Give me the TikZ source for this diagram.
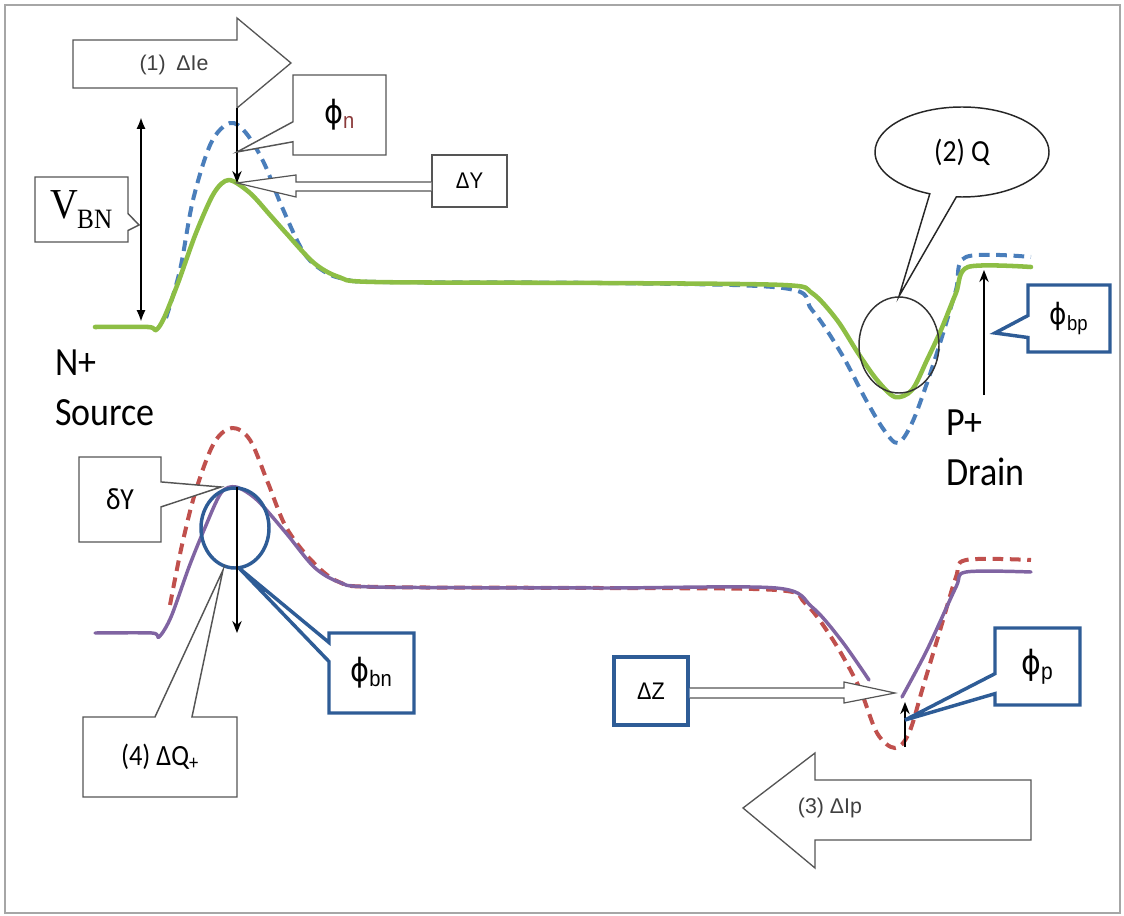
\documentclass[tikz,border=0pt]{standalone}
\usepackage{fontspec}
\setmainfont{Liberation Sans}[FakeStretch=0.9]
\newfontfamily\plainfont{Liberation Sans}
\newfontfamily\calfont{Carlito}[FakeStretch=0.9]
\newfontfamily\serfont{Liberation Serif}[FakeStretch=0.9]
\newfontfamily\dvfont{DejaVu Sans}[FakeStretch=0.9]
\usetikzlibrary{shapes.callouts,shapes.geometric,arrows.meta}
\newdimen\px \px=0.75pt
\definecolor{cgreen}{HTML}{8DBE45}
\definecolor{cblue}{HTML}{4A7EBB}
\definecolor{cred}{HTML}{C0504D}
\definecolor{cpurple}{HTML}{8064A2}
\definecolor{cbox}{HTML}{2E5C96}
\definecolor{cline}{HTML}{555555}
\definecolor{cn}{HTML}{8B3A3A}
\newcommand\ph[1]{{\dvfont ϕ}\textsubscript{#1}}
\begin{document}
\begin{tikzpicture}[x=0.75pt,y=-0.75pt,
  box/.style={draw=cline, line width=1.1pt, fill=white, inner sep=0pt, text=black},
  bluebox/.style={draw=cbox, line width=2.6pt, fill=white, inner sep=0pt, text=black},
  curve/.style={line width=3.4pt, line join=round, line cap=round},
  dcurve/.style={line width=3pt, dash pattern=on 8pt off 5pt},
  blockarrow/.style={draw=cline, line width=1pt, fill=white},
  thinarrow/.style={draw=cline, line width=0.9pt, fill=white},
  darrow/.style={draw=black, line width=1.2pt, -{Stealth[length=9pt,width=7pt]}},
  atext/.style={text=black!75, font=\plainfont\fontsize{16pt}{19pt}\selectfont}
]
\useasboundingbox (0,0) rectangle (1124,916);
\draw[draw=gray!70, line width=1.5pt] (5,5) rectangle (1120,913);

% upper curves
\draw[dcurve, cblue] plot[smooth, tension=0.55] coordinates {(166,318) (180,270) (193,200) (211,143) (230,123) (246,133) (264,163) (282,207) (304,253) (325,272) (345,279) (380,282) (600,283) (783,288) (812,310) (841,353) (866,400) (884,430) (898,443) (912,423) (927,383) (941,340) (956,290) (966,257) (1031,257)};
\draw[curve, cgreen] plot[smooth, tension=0.5] coordinates {(95,327) (148,327) (156,330) (164,318) (178,283) (196,233) (214,193) (229,180) (250,193) (270,215) (286,233) (314,263) (339,277) (375,282) (600,283) (783,285) (812,293) (837,320) (858,353) (877,380) (895,397) (912,390) (927,360) (941,330) (956,293) (968,267) (1031,267)};

% lower curves
\draw[dcurve, cred] plot[smooth, tension=0.55] coordinates {(170,605) (182,545) (196,490) (214,443) (232,428) (250,440) (268,483) (286,527) (311,560) (339,582) (380,587) (600,588) (776,590) (805,603) (833,640) (859,687) (877,733) (895,748) (909,733) (923,687) (941,627) (956,577) (966,560) (1031,560)};
\draw[curve, cpurple, line width=2.6pt] plot[smooth, tension=0.5] coordinates {(95,633) (152,633) (159,637) (171,617) (189,567) (204,530) (221,493) (236,487) (257,500) (286,533) (314,567) (339,582) (375,587) (600,588) (776,588) (812,607) (841,640) (869,680)};
\draw[curve, cpurple, line width=2.6pt] plot[smooth, tension=0.5] coordinates {(902,697) (927,650) (956,587) (966,572) (1031,572)};

% circles
\node[draw=black!80, line width=1.1pt, ellipse, minimum width=80\px, minimum height=96\px, inner sep=0pt] (qc) at (899,345) {};
\node[draw=cbox, line width=2.6pt, ellipse, minimum width=68\px, minimum height=80\px, inner sep=0pt] (bc) at (235,528) {};

% block arrows
\draw[blockarrow] (73,40) -- (237,40) -- (237,18) -- (291,63) -- (237,108) -- (237,88) -- (73,88) -- cycle;
\node[atext] (a1) at (174,65) {(1)\hspace{8pt}ΔIe};
\draw[blockarrow] (743,808) -- (815,753) -- (815,780) -- (1031,780) -- (1031,840) -- (815,840) -- (815,868) -- cycle;
\node[atext] (a3) at (830,808) {(3) ΔIp};

% coordinates for arrows
\coordinate (pn0) at (237,108);
\coordinate (pn1) at (237,183);
\coordinate (vb0) at (141,117);
\coordinate (vb1) at (141,322);
\coordinate (pp0) at (984,395);
\coordinate (pp1) at (984,270);
\coordinate (bn0) at (237,487);
\coordinate (bn1) at (237,633);
\coordinate (sp0) at (905,747);
\coordinate (sp1) at (905,702);

% vertical arrows
\draw[darrow] (pn0) -- (pn1);
\draw[line width=2.2pt, {Latex[length=9pt,width=7pt]}-{Latex[length=9pt,width=7pt]}] (vb0) -- (vb1);
\draw[darrow, line width=1.3pt] (pp0) -- (pp1);
\draw[darrow] (bn0) -- (bn1);
\draw[darrow, line width=2pt] (sp0) -- (sp1);

% hollow thin arrows
\node[box] (dy) at (469.5,181) [minimum width=75\px, minimum height=52\px] {\fontsize{17pt}{20pt}\selectfont ΔY};
\draw[thinarrow] (dy.west |- 0,182) -- (296,182) -- (296,175) -- (pn1) -- (296,197) -- (296,191) -- (dy.west |- 0,191);
\node[bluebox] (dz) at (651,691) [minimum width=74\px, minimum height=68\px] {\fontsize{18pt}{21pt}\selectfont ΔZ};
\draw[thinarrow] (dz.east |- 0,688) -- (844,688) -- (844,682) -- (895,693) -- (844,703) -- (844,698) -- (dz.east |- 0,698);

% callouts
\node[box, rectangle callout, callout absolute pointer={(237,152)}, callout pointer width=20\px,
  minimum width=93\px, minimum height=80\px] (phn) at (339.5,115)
  {\fontsize{24pt}{28pt}\selectfont{\dvfont ϕ}\textcolor{cn}{\textsubscript{n}}};
\node[box, rectangle callout, callout absolute pointer={(139,225)}, callout pointer width=17\px,
  minimum width=93\px, minimum height=65\px] (vbn) at (81.5,209.5)
  {\serfont\fontsize{32pt}{36pt}\selectfont V\kern-1pt\raisebox{-0.22em}{\fontsize{21pt}{24pt}\selectfont BN}};
\node[bluebox, rectangle callout, callout absolute pointer={(995,333)}, callout pointer width=22\px,
  minimum width=82\px, minimum height=67\px] (phbp) at (1069,318.5)
  {\fontsize{22pt}{26pt}\selectfont\ph{bp}};
\node[box, rectangle callout, callout absolute pointer={(221,487)}, callout pointer width=25\px,
  minimum width=82\px, minimum height=85\px] (dly) at (120,499.5)
  {\calfont\fontsize{23pt}{27pt}\selectfont δY};
\node[box, rectangle callout, callout absolute pointer={(223,570)}, callout pointer width=37\px,
  minimum width=154\px, minimum height=80\px] (dq) at (160,757)
  {\calfont\fontsize{22pt}{26pt}\selectfont (4) ΔQ\textsubscript{+}};
\node[bluebox, rectangle callout, callout absolute pointer={(239,568)}, callout pointer width=19\px,
  minimum width=85\px, minimum height=80\px] (phbn) at (371.5,673)
  {\fontsize{24pt}{28pt}\selectfont\ph{bn}};
\node[bluebox, rectangle callout, callout absolute pointer={(905,720)}, callout pointer width=20\px,
  minimum width=85\px, minimum height=77\px] (php) at (1037.5,666.5)
  {\fontsize{25pt}{29pt}\selectfont\ph{p}};
\node[draw=black!85, line width=1.1pt, fill=white, ellipse callout, callout absolute pointer={(qc.north)},
  callout pointer arc=18, minimum width=174\px, minimum height=90\px, inner sep=0pt] (q2) at (962,152)
  {\calfont\fontsize{23pt}{27pt}\selectfont (2) Q};

% side labels
\node[anchor=north west, align=left, inner sep=0pt, font=\calfont\fontsize{30pt}{37pt}\selectfont] (ns) at (55,350) {N+\\Source};
\node[anchor=north west, align=left, inner sep=0pt, font=\calfont\fontsize{30pt}{37pt}\selectfont] (pd) at (946,410) {P+\\Drain};
\end{tikzpicture}
\end{document}
